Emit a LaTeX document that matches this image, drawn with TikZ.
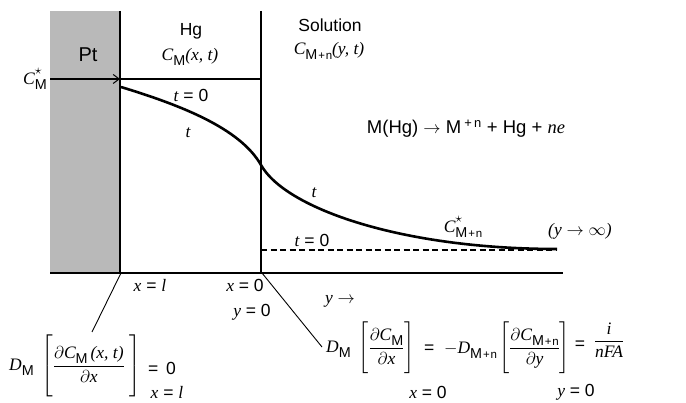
\documentclass[tikz,border=0pt]{standalone}
\usepackage{amsmath}
\usepackage{fontspec}
\setmainfont{Liberation Sans}
\newfontfamily\serfont{Liberation Serif}
\usetikzlibrary{arrows.meta}
\newcommand\vi[1]{{\serfont\itshape #1}}
\newcommand\mi[1]{\mbox{\vi{#1}}}
\newcommand\sub[1]{\raisebox{-0.3em}{\scalebox{0.82}{#1}}}
\newcommand\Mpn{M\kern1.2pt\scalebox{0.8}{+\kern1pt n}}
\begin{document}
\begin{tikzpicture}[x=1pt,y=-1pt,
  lbl/.style={font=\fontsize{17.5}{20}\selectfont, inner sep=1pt},
  eq/.style={font=\fontsize{17.5}{20}\selectfont, inner sep=0pt},
  thin line/.style={line width=1.2pt},
  conn/.style={line width=0.9pt},
  profile/.style={line width=2.6pt}]
\useasboundingbox (0,0) rectangle (686,403);
% Pt electrode
\fill[gray!55] (50,11) rectangle (120,273);
\draw[thin line] (120,11) -- (120,273);
\draw[thin line] (261,11) -- (261,273);
\draw[thin line] (120,79) -- (261,79);
\draw[line width=1.6pt] (50,273) -- (563,273);
\draw[line width=1.1pt, dash pattern=on 6pt off 3.5pt] (261,250) -- (557,250);
% concentration profile
\draw[profile] (121,87) .. controls (180,105) and (240,128) .. (261,165)
  .. controls (285,208) and (400,249) .. (557,249);
% labels
\node[lbl, font=\fontsize{20}{22}\selectfont] (pt) at (88,55) {Pt};
\node[lbl] (hg) at (191,31) {Hg};
\node[lbl] (cm) at (190,57) {\vi{C}\sub{M}\vi{(x, t)}};
\node[lbl] (sol) at (330,25) {Solution};
\node[lbl] (cmn) at (329,51) {\vi{C}\sub{\Mpn}\vi{(y, t)}};
\node[lbl] (t0a) at (191,95) {\vi{t} = 0};
\node[lbl] (ta) at (188,133) {\vi{t}};
\node[lbl] (tb) at (314,193) {\vi{t}};
\node[lbl] (t0b) at (312,240) {\vi{t} = 0};
\node[lbl, font=\fontsize{18.5}{22}\selectfont] (react) at (466,129) {M(Hg) $\rightarrow$ M\,\textsuperscript{+\,n} + Hg + \vi{ne}};
\node[lbl] (cstar) at (463,227) {\vi{C}\rlap{\raisebox{0.55em}{\scalebox{0.8}{$\star$}}}\sub{\Mpn}};
\node[lbl] (yinf) at (580,231) {\vi{(y} $\rightarrow\infty$\vi{)}};
\node[lbl, anchor=east] (cms) at (48,79) {\vi{C}\rlap{\raisebox{0.55em}{\scalebox{0.8}{$\star$}}}\sub{M}};
\coordinate (wall) at (120,79);
\draw[line width=1.8pt, -{Straight Barb[length=6pt,width=9pt,line width=1pt]}] (cms.east) ++(2,0) -- (wall);
% bottom labels
\node[lbl] (xl) at (150,285) {\vi{x} = \vi{l}};
\node[lbl] (x0) at (245,285) {\vi{x} = 0};
\node[lbl] (y0) at (252,312) {\vi{y} = 0};
\node[lbl] (yarr) at (340,301) {\vi{y} $\rightarrow$};
% left boundary condition
\node[eq, anchor=west] (eqL) at (9,366) {$\mi{D}\mbox{\sub{M}}\;\left[\rule[-25pt]{0pt}{54pt}\dfrac{\partial\mi{C}\mbox{\sub{M}}\,\mi{(x, t)}}{\partial\mi{x}}\;\right]$};
\node[eq, anchor=west] (eqL0) at (148,368) {= \,0};
\node[eq] (eqLs) at (167,392) {\vi{x} = \vi{l}};
% right boundary condition
\node[eq, anchor=west] (eqR1) at (326,348) {$\mi{D}\mbox{\sub{M}}\;\left[\rule[-21pt]{0pt}{46pt}\dfrac{\partial\mi{C}\mbox{\sub{M}}}{\partial\mi{x}}\right]$};
\node[eq] (eqRs1) at (428,392) {\vi{x} = 0};
\node[eq, anchor=west] (eqR2) at (424,350) {= \ $-$\vi{D}\sub{\Mpn}};
\node[eq, anchor=west] (eqR3) at (499,348) {$\left[\rule[-21pt]{0pt}{46pt}\dfrac{\partial\mi{C}\mbox{\sub{\Mpn}}}{\partial\mi{y}}\right]$};
\node[eq] (eqR4) at (580,345) {=};
\node[eq] (eqRs2) at (576,392) {\vi{y} = 0};
\node[eq] (eqR5) at (609,340) {$\dfrac{\mi{i}}{\mi{nFA}}$};
% connectors
\coordinate (jl) at (121,273);
\coordinate (jr) at (262,273);
\coordinate (el) at (92,332);
\coordinate (er) at (322,347);
\draw[conn] (jl) -- (el);
\draw[conn] (jr) -- (er);
\end{tikzpicture}
\end{document}
